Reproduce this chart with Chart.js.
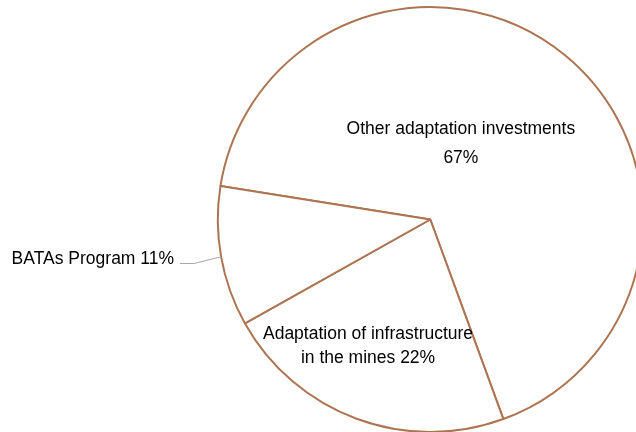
<!DOCTYPE html>
<html>
<head>
<meta charset="utf-8">
<script src="https://cdn.jsdelivr.net/npm/chart.js@4.4.1/dist/chart.umd.min.js"></script>
<style>
  html, body { margin: 0; padding: 0; background: #fff; }
  #wrap { width: 636px; height: 432px; position: relative; }
</style>
</head>
<body>
<div id="wrap"><canvas id="pieChart"></canvas></div>
<script>
// data
const categories = ["Other adaptation investments", "Adaptation of infrastructure in the mines", "BATAs Program"];
const shares = [66.9, 22.45, 10.65];
// how each label is broken into lines ({p} = rounded percent)
const labelLines = [
  ["Other adaptation investments", "{p}%"],
  ["Adaptation of infrastructure", "in the mines {p}%"],
  ["BATAs Program {p}%"]
];

const brown = "#AD7452";
const leaderGrey = "#A6A6A6";
const labelFont = "17.5px 'Liberation Sans', Arial, sans-serif";

// label anchors in units of the pie radius, relative to the pie centre
const labelSpots = [
  { dx: 0.144, dy: -0.358, align: "center", lineGap: 28.5 },
  { dx: -0.293, dy: 0.595, align: "center", lineGap: 24.5 },
  { dx: -1.206, dy: 0.186, align: "right", lineGap: 0, leader: { ex: -1.112, ey: 0.207, end: 6 } }
];

const pieLabels = {
  id: "pieLabels",
  afterDatasetsDraw(chart) {
    const ctx = chart.ctx;
    const meta = chart.getDatasetMeta(0);
    const values = chart.data.datasets[0].data;
    const total = values.reduce((a, b) => a + b, 0);
    ctx.save();
    ctx.font = labelFont;
    ctx.fillStyle = "#000";
    ctx.textBaseline = "middle";
    meta.data.forEach((arc, i) => {
      const { x, y, outerRadius, startAngle, endAngle } = arc.getProps(["x", "y", "outerRadius", "startAngle", "endAngle"], true);
      const spot = labelSpots[i];
      const pct = Math.round(values[i] / total * 100);
      const lines = labelLines[i].map(s => s.replace("{p}", pct));
      const lx = x + spot.dx * outerRadius;
      const ly = y + spot.dy * outerRadius;
      ctx.textAlign = spot.align;
      const top = ly - (lines.length - 1) * spot.lineGap / 2;
      lines.forEach((s, k) => ctx.fillText(s, lx, top + k * spot.lineGap));
      if (spot.leader) {
        const mid = (startAngle + endAngle) / 2;
        const ax = x + Math.cos(mid) * outerRadius;
        const ay = y + Math.sin(mid) * outerRadius;
        const ex = x + spot.leader.ex * outerRadius;
        const ey = y + spot.leader.ey * outerRadius;
        ctx.strokeStyle = leaderGrey;
        ctx.lineWidth = 1;
        ctx.beginPath();
        ctx.moveTo(ax, ay);
        ctx.lineTo(ex, ey);
        ctx.lineTo(lx + spot.leader.end, ey);
        ctx.stroke();
      }
    });
    ctx.restore();
  }
};

new Chart(document.getElementById("pieChart"), {
  type: "pie",
  data: {
    labels: categories,
    datasets: [{
      data: shares,
      backgroundColor: "#ffffff",
      borderColor: brown,
      borderWidth: 2,
      clip: false
    }]
  },
  options: {
    responsive: true,
    maintainAspectRatio: false,
    animation: false,
    rotation: 279.05,
    radius: 212.5,
    layout: { padding: { left: 224.6, right: 0, top: 7, bottom: 0 } },
    plugins: {
      legend: { display: false },
      tooltip: { enabled: false }
    }
  },
  plugins: [pieLabels]
});
</script>
</body>
</html>
